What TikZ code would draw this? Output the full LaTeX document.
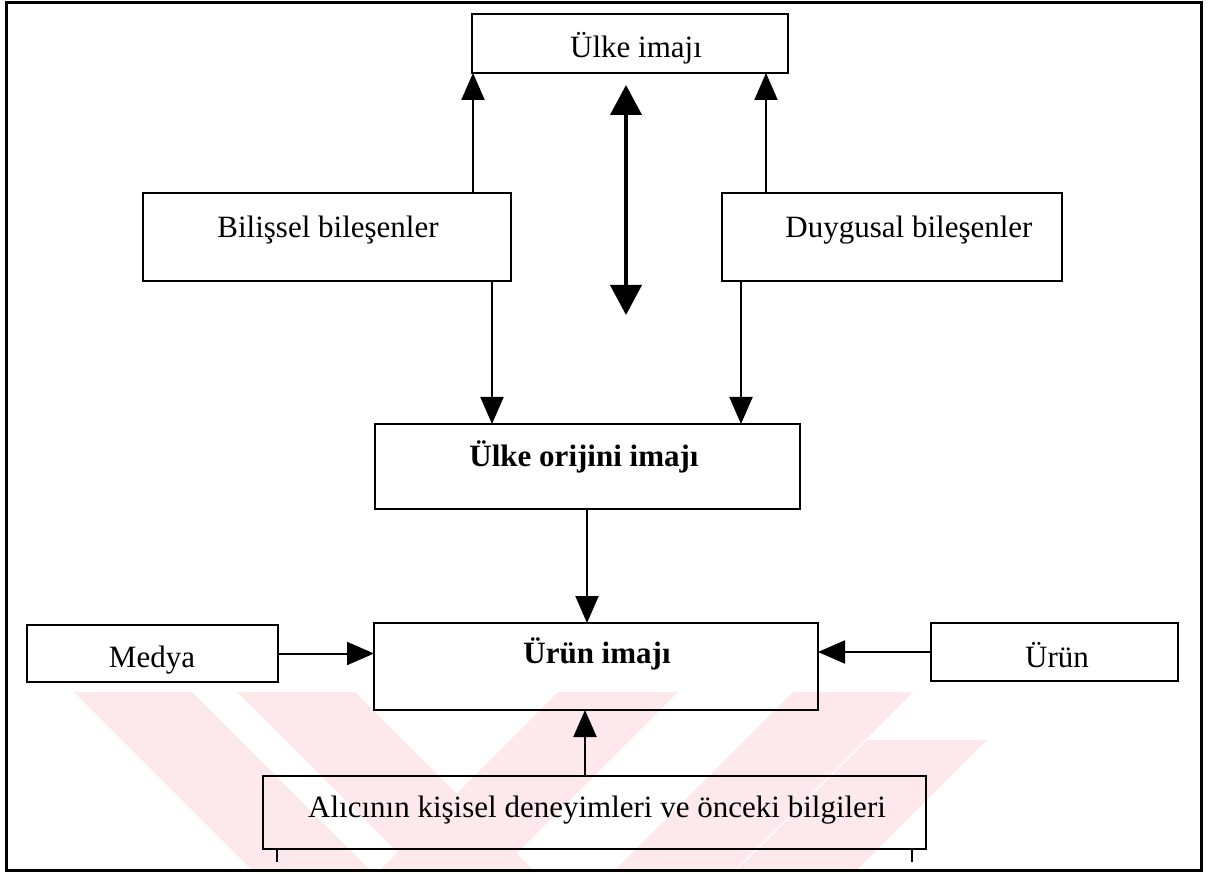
\documentclass[tikz,border=0pt]{standalone}
\usepackage{fontspec}
\setmainfont{Liberation Serif}
\usetikzlibrary{arrows.meta}
\definecolor{wmpink}{RGB}{253,232,236}
\tikzset{
  box/.style={draw, line width=2.5pt, inner sep=0pt, outer sep=0pt},
  lbl/.style={inner sep=0pt, outer sep=0pt, anchor=base, font=\fontsize{31}{37}\selectfont},
  blbl/.style={lbl, font=\fontsize{31}{37}\selectfont\bfseries},
  arr/.style={line width=2pt, -{Triangle[length=27pt,width=23pt]}},
  dblarr/.style={line width=4pt, {Triangle[length=30pt,width=31pt]}-{Triangle[length=30pt,width=31pt]}},
  tick/.style={line width=2pt},
  frame/.style={line width=3pt},
  wm/.style={fill=wmpink, draw=none}
}
\begin{document}
\begin{tikzpicture}[x=1pt,y=-1pt]
\useasboundingbox (0,0) rectangle (1208,874);
% watermark
\begin{scope}
  \clip (8,692) rectangle (1199,868);
  \fill[wm] (72,690) -- (190,690) -- (370,870) -- (252,870) -- cycle;
  \fill[wm] (235,690) -- (353,690) -- (533,870) -- (415,870) -- cycle;
  \fill[wm] (560,690) -- (680,690) -- (500,870) -- (380,870) -- cycle;
  \fill[wm] (795,690) -- (915,690) -- (735,870) -- (615,870) -- cycle;
  \fill[wm] (867,740) -- (987,740) -- (857,870) -- (737,870) -- cycle;
\end{scope}
% frame
\draw[frame] (6,3) rectangle (1201,870);
% boxes
\node[box, minimum width=316pt, minimum height=59pt] (ulke) at (630,43.5) {};
\node[box, minimum width=368pt, minimum height=88pt] (bil) at (327,237) {};
\node[box, minimum width=340pt, minimum height=88pt] (duy) at (892,237) {};
\node[box, minimum width=425pt, minimum height=85pt] (orij) at (587.5,466.5) {};
\node[box, minimum width=444pt, minimum height=87pt] (urunimaj) at (596,666.5) {};
\node[box, minimum width=251pt, minimum height=57pt] (medya) at (152.5,653.5) {};
\node[box, minimum width=247pt, minimum height=58pt] (urun) at (1054.5,652) {};
\node[box, minimum width=663pt, minimum height=73pt] (alici) at (594.5,812.5) {};
% labels
\node[lbl] (ulket) at (636,58) {Ülke imajı};
\node[lbl] (bilt) at (328,238) {Bilişsel bileşenler};
\node[lbl] (duyt) at (909,238) {Duygusal bileşenler};
\node[blbl] (orijt) at (584,467) {Ülke orijini imajı};
\node[blbl] (urunimajt) at (597,663) {Ürün imajı};
\node[lbl] (medyat) at (152,667) {Medya};
\node[lbl] (urunt) at (1057,667) {Ürün};
\node[lbl] (alicit) at (597,817) {Alıcının kişisel deneyimleri ve önceki bilgileri};
% helper coordinates
\coordinate (xa) at (473,0);
\coordinate (xb) at (766,0);
\coordinate (xc) at (492,0);
\coordinate (xd) at (741,0);
\coordinate (xe) at (587,0);
\coordinate (xf) at (585,0);
\coordinate (d1) at (626,85);
\coordinate (d2) at (626,315);
\coordinate (t1) at (277,862);
\coordinate (t2) at (912,862);
% connectors
\draw[arr] (bil.north -| xa) -- (ulke.south -| xa);
\draw[arr] (duy.north -| xb) -- (ulke.south -| xb);
\draw[dblarr] (d1) -- (d2);
\draw[arr] (bil.south -| xc) -- (orij.north -| xc);
\draw[arr] (duy.south -| xd) -- (orij.north -| xd);
\draw[arr] (orij.south -| xe) -- (urunimaj.north -| xe);
\draw[arr] (medya.east) -- (medya.east -| urunimaj.west);
\draw[arr] (urun.west) -- (urun.west -| urunimaj.east);
\draw[arr] (alici.north -| xf) -- (urunimaj.south -| xf);
\draw[tick] (alici.south -| t1) -- (t1);
\draw[tick] (alici.south -| t2) -- (t2);
\end{tikzpicture}
\end{document}
